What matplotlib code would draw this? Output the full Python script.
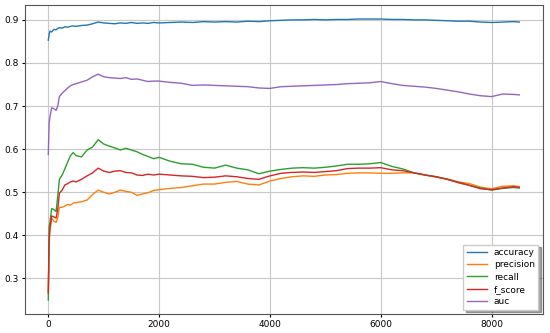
import numpy as np
import matplotlib as mpl
mpl.rcParams['font.size'] = 6.5
from matplotlib import pyplot as plt

steps = [0, 15, 30, 60, 100, 140, 170, 200, 250, 300, 350, 400, 450, 500,
         600, 700, 800, 900, 1000, 1100, 1200, 1300, 1400, 1500, 1600, 1700, 1800, 1900, 2000,
         2200, 2400, 2600, 2800, 3000, 3200, 3400, 3600, 3800, 4000, 4200, 4400, 4600, 4800,
         5000, 5200, 5400, 5600, 5800, 6000, 6200, 6400, 6600, 6800, 7000, 7200, 7400, 7600,
         7800, 8000, 8200, 8400, 8500]

accuracy = [0.853, 0.866, 0.874, 0.872, 0.878, 0.877, 0.880, 0.882, 0.881, 0.884, 0.883, 0.885, 0.886, 0.885,
            0.887, 0.888, 0.891, 0.895, 0.893, 0.892, 0.891, 0.893, 0.892, 0.894, 0.892, 0.893, 0.892, 0.894, 0.893,
            0.894, 0.895, 0.894, 0.896, 0.895, 0.896, 0.895, 0.897, 0.896, 0.898, 0.899, 0.900, 0.900, 0.901,
            0.900, 0.901, 0.901, 0.902, 0.902, 0.902, 0.901, 0.901, 0.900, 0.900, 0.899, 0.898, 0.897, 0.897,
            0.895, 0.894, 0.895, 0.896, 0.895]

precision = [0.270, 0.380, 0.410, 0.440, 0.433, 0.430, 0.440, 0.465, 0.465, 0.468, 0.472, 0.470, 0.475, 0.476,
             0.478, 0.482, 0.495, 0.505, 0.500, 0.496, 0.500, 0.505, 0.502, 0.500, 0.493, 0.496, 0.499, 0.504, 0.506,
             0.509, 0.511, 0.515, 0.519, 0.519, 0.523, 0.525, 0.519, 0.517, 0.526, 0.532, 0.536, 0.538, 0.537,
             0.540, 0.541, 0.544, 0.545, 0.545, 0.544, 0.544, 0.545, 0.545, 0.540, 0.535, 0.531, 0.524, 0.520,
             0.512, 0.508, 0.514, 0.515, 0.513]

recall = [0.250, 0.420, 0.430, 0.462, 0.460, 0.455, 0.490, 0.530, 0.540, 0.555, 0.570, 0.585, 0.592, 0.585,
          0.582, 0.598, 0.605, 0.622, 0.612, 0.607, 0.603, 0.598, 0.602, 0.598, 0.594, 0.588, 0.583, 0.578, 0.581,
          0.572, 0.566, 0.565, 0.558, 0.556, 0.563, 0.556, 0.552, 0.543, 0.549, 0.553, 0.556, 0.557, 0.556,
          0.558, 0.561, 0.565, 0.565, 0.566, 0.569, 0.560, 0.554, 0.545, 0.540, 0.536, 0.530, 0.522, 0.516,
          0.510, 0.505, 0.509, 0.511, 0.510]

f_score = [0.265, 0.390, 0.420, 0.445, 0.443, 0.440, 0.460, 0.498, 0.505, 0.517, 0.520, 0.524, 0.526, 0.524,
           0.530, 0.538, 0.545, 0.556, 0.549, 0.546, 0.549, 0.550, 0.546, 0.545, 0.540, 0.539, 0.542, 0.540, 0.542,
           0.540, 0.538, 0.537, 0.534, 0.535, 0.538, 0.536, 0.532, 0.530, 0.538, 0.544, 0.546, 0.547, 0.546,
           0.548, 0.550, 0.555, 0.556, 0.556, 0.557, 0.552, 0.550, 0.545, 0.540, 0.536, 0.530, 0.523, 0.516,
           0.508, 0.506, 0.510, 0.513, 0.511]

auc = [0.588, 0.660, 0.675, 0.696, 0.694, 0.690, 0.700, 0.722, 0.730, 0.736, 0.742, 0.747, 0.750, 0.752,
       0.756, 0.760, 0.768, 0.774, 0.768, 0.766, 0.765, 0.764, 0.766, 0.762, 0.763, 0.760, 0.757, 0.758, 0.758,
       0.755, 0.753, 0.748, 0.749, 0.748, 0.747, 0.746, 0.745, 0.742, 0.741, 0.745, 0.746, 0.747, 0.748,
       0.749, 0.750, 0.752, 0.753, 0.754, 0.757, 0.752, 0.748, 0.746, 0.744, 0.741, 0.737, 0.733, 0.728,
       0.724, 0.722, 0.728, 0.727, 0.726]

fig = plt.figure(figsize=(5.5, 3.33), dpi=100)
ax = fig.add_axes([0.045, 0.057, 0.942, 0.928])
ax.plot(steps, accuracy, lw=1, label='accuracy')
ax.plot(steps, precision, lw=1, label='precision')
ax.plot(steps, recall, lw=1, label='recall')
ax.plot(steps, f_score, lw=1, label='f_score')
ax.plot(steps, auc, lw=1, label='auc')
ax.set_xticks(np.arange(0, 8001, 2000))
ax.set_yticks(np.arange(0.3, 0.91, 0.1))
ax.grid(True, color='#c8c8c8', lw=0.8)
for s in ax.spines.values():
    s.set_color('#555555')
ax.tick_params(length=2.5, pad=2)
ax.legend(loc='lower right', fontsize=6.5, handlelength=2.2, borderpad=0.4,
          labelspacing=0.35, fancybox=False, shadow=True, framealpha=1)
plt.savefig('out.png', dpi=100)
